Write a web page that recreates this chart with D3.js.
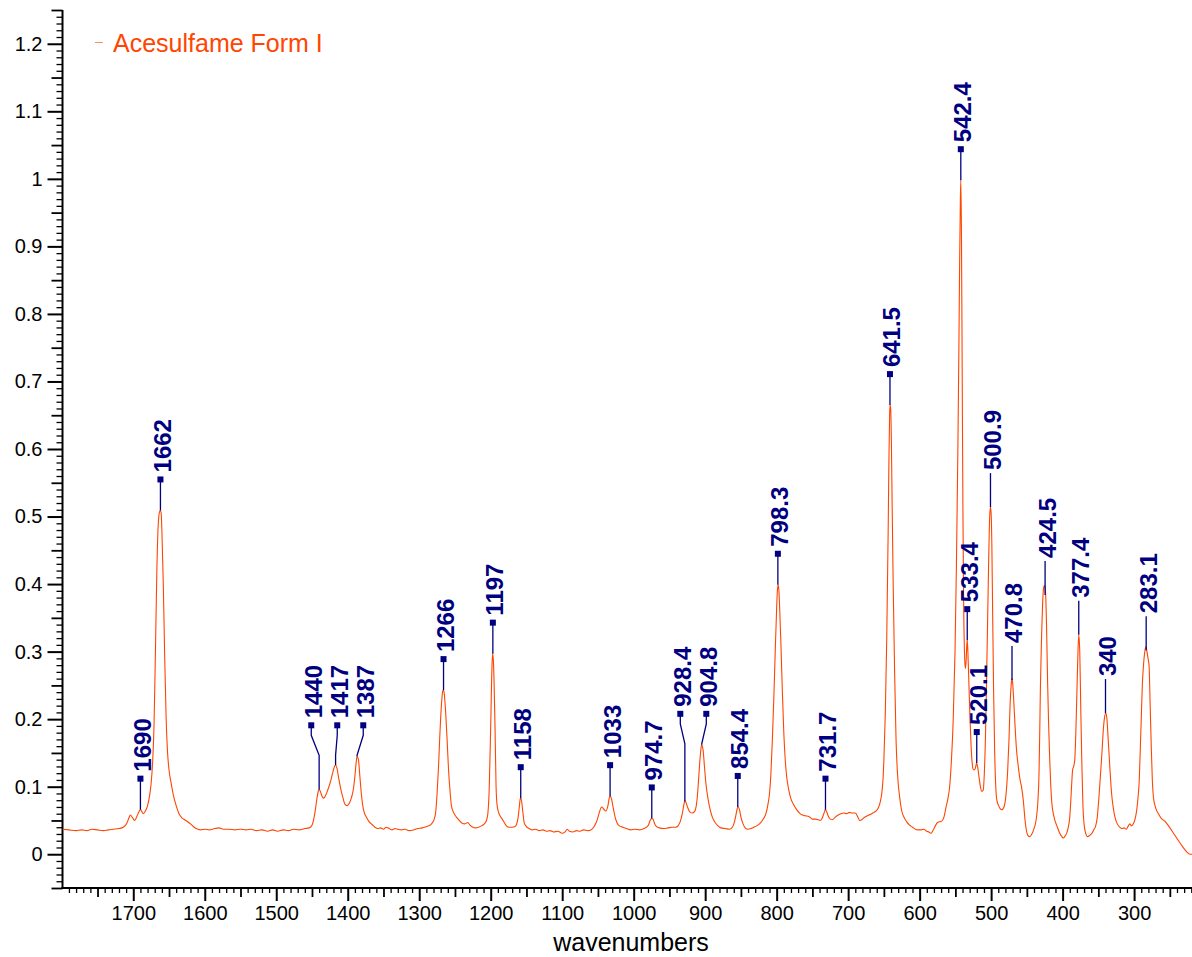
<!DOCTYPE html>
<html>
<head>
<meta charset="utf-8">
<script src="https://cdn.jsdelivr.net/npm/d3@7"></script>
<style>
  body { margin: 0; background: #fff; }
  svg { display: block; font-family: "Liberation Sans", Arial, sans-serif; }
</style>
</head>
<body>
<div id="chart"></div>
<script>
// spectrum (wavenumber, intensity)
var specWavenumber = [1799,1790,1780,1772,1765,1758,1750,1742,1735,1728,1720,1714,1709,1706,1704,1701,1698,1695,1692,1690,1688,1686,1683,1680,1677,1675,1673,1671,1669,1667,1665,1663,1662,1661,1660,1658,1656,1654,1652,1650,1647,1644,1640,1636,1632,1628,1624,1620,1616,1612,1606,1600,1594,1586,1580,1574,1566,1558,1550,1542,1535,1528,1520,1512,1505,1498,1490,1483,1476,1468,1460,1454,1450,1447,1445,1443,1441,1440,1438,1436,1434,1432,1429,1426,1423,1420,1418,1417,1415,1413,1410,1407,1404,1401,1398,1395,1392,1390,1388,1387,1385,1383,1381,1379,1377,1374,1370,1366,1362,1358,1354,1350,1346,1342,1338,1334,1330,1325,1320,1314,1308,1302,1296,1290,1285,1282,1279,1277,1275,1273,1271,1269,1267,1266,1265,1263,1261,1259,1257,1255,1252,1248,1244,1240,1236,1232,1229,1225,1221,1217,1213,1209,1206,1204,1202,1200,1198,1197,1196,1194,1192.5,1191,1189,1187,1184,1181,1178,1174,1170,1166,1164,1162,1160,1158.5,1157,1155,1153,1150,1146,1142,1137,1132,1127,1122,1117,1112,1106,1100,1096,1093,1090,1085,1080,1075,1070,1064,1060,1056,1052,1048,1045,1042,1039,1036,1034,1033,1031,1029,1026,1023,1020,1015,1010,1004,998,992,986,982,979,977,975,973,971,968,964,958,952,946,941,938,935,932,930,928.5,927,924,921,918,915,912,910,908,906,905,903,901,899,896,893,890,886,882,878,872,866,862,859,857,855,854,852,850,847,844,840,836,832,828,824,820,817,815,812,810,808,806,804,802,800,799,798,797,796,794,792,790,788,786,783,780,776,772,768,764,760,755,750,746,742,739,736,734,732,730,728,725,722,718,714,710,706,702,698,694,690,686,684,681,678,675,671,667,664,661,658,655,653,651,650,648,646,644,643,642,641.5,640.5,639.5,638.5,637,635,633,631,628,625,622,618,614,610,606,602,598,594,590,587,584,581,578,575,572,569,566,563,560,558,555.5,553,550.5,548.5,546.5,545,544,543,542.4,541.5,540.5,539.5,538.5,537,536,535,534,533.4,532.5,531,529.5,528,526.5,525,523,521.5,520.3,519,517,515,513,511,509.5,508,506.5,505,503.5,502,501,500,499,498,496.5,495,493.5,492,489.5,487,485,482,479.5,477,475,473.5,472,471,470,468.5,466.5,464.5,462,459.5,457.5,455,452.5,450,448,446,443,440,438,436,434.5,433,432,431,429.5,428,426.5,425,424,422.5,421,419.5,418,416.5,415,413,411,408,404,401,399,397,394,392,390,388.5,387,386,384.5,383,381.5,380,378.5,377.4,376,374.5,373,371.5,370,368,365,362,359,356,354,351.5,349.5,347.5,345,343,341,339.5,338,336.5,334,331.5,329,327,324,320,317,314,311,308,306,304,301,298,296,294,293,291.5,290,288.5,286.5,285,283.6,282,280.5,279,277.5,276,274.5,273,271,269,266,262,257,252.6,246,238.6,232,226,222,219];
var specIntensity = [0.037,0.036,0.035,0.036,0.035,0.037,0.036,0.035,0.036,0.037,0.038,0.040,0.046,0.054,0.058,0.054,0.050,0.056,0.063,0.066,0.063,0.060,0.064,0.072,0.088,0.105,0.135,0.19,0.30,0.42,0.49,0.508,0.509,0.505,0.48,0.40,0.29,0.20,0.15,0.125,0.105,0.088,0.072,0.060,0.054,0.051,0.048,0.045,0.041,0.038,0.036,0.037,0.036,0.038,0.039,0.037,0.037,0.036,0.037,0.036,0.037,0.035,0.036,0.034,0.036,0.034,0.036,0.035,0.037,0.036,0.038,0.039,0.043,0.055,0.068,0.083,0.094,0.096,0.092,0.086,0.083,0.085,0.092,0.101,0.112,0.125,0.131,0.132,0.127,0.115,0.098,0.085,0.074,0.072,0.075,0.083,0.097,0.115,0.138,0.145,0.140,0.115,0.09,0.072,0.062,0.055,0.048,0.044,0.040,0.038,0.039,0.037,0.040,0.038,0.036,0.038,0.037,0.036,0.037,0.035,0.036,0.038,0.039,0.041,0.043,0.046,0.052,0.062,0.09,0.13,0.18,0.22,0.242,0.243,0.238,0.21,0.17,0.125,0.095,0.072,0.062,0.055,0.050,0.046,0.045,0.047,0.043,0.040,0.039,0.040,0.042,0.045,0.050,0.060,0.100,0.19,0.285,0.297,0.28,0.19,0.10,0.072,0.062,0.057,0.052,0.047,0.042,0.040,0.040,0.041,0.044,0.052,0.070,0.083,0.080,0.062,0.046,0.041,0.038,0.036,0.037,0.035,0.036,0.034,0.035,0.033,0.034,0.031,0.033,0.037,0.034,0.033,0.035,0.034,0.036,0.035,0.036,0.040,0.048,0.062,0.070,0.067,0.064,0.072,0.084,0.086,0.082,0.071,0.055,0.046,0.042,0.040,0.038,0.036,0.037,0.036,0.038,0.040,0.044,0.050,0.053,0.052,0.046,0.041,0.039,0.038,0.039,0.040,0.040,0.042,0.048,0.060,0.072,0.079,0.077,0.068,0.062,0.061,0.063,0.075,0.098,0.130,0.155,0.162,0.155,0.130,0.105,0.082,0.066,0.055,0.047,0.042,0.039,0.038,0.037,0.040,0.048,0.058,0.068,0.070,0.066,0.055,0.045,0.039,0.037,0.038,0.040,0.042,0.045,0.050,0.055,0.060,0.075,0.090,0.12,0.17,0.23,0.30,0.365,0.39,0.399,0.392,0.37,0.31,0.24,0.18,0.14,0.115,0.095,0.082,0.073,0.066,0.061,0.058,0.057,0.056,0.052,0.052,0.051,0.050,0.054,0.060,0.066,0.063,0.057,0.052,0.051,0.055,0.058,0.060,0.061,0.060,0.062,0.061,0.061,0.054,0.050,0.051,0.054,0.056,0.058,0.060,0.062,0.064,0.068,0.078,0.090,0.115,0.14,0.21,0.32,0.48,0.58,0.65,0.665,0.66,0.61,0.52,0.40,0.27,0.17,0.12,0.085,0.064,0.055,0.048,0.043,0.040,0.037,0.036,0.036,0.037,0.034,0.033,0.031,0.036,0.042,0.047,0.048,0.049,0.055,0.070,0.085,0.10,0.14,0.20,0.30,0.43,0.60,0.76,0.88,0.97,0.998,0.92,0.72,0.52,0.38,0.29,0.275,0.285,0.31,0.317,0.30,0.25,0.20,0.16,0.135,0.125,0.125,0.130,0.135,0.130,0.115,0.100,0.093,0.095,0.12,0.17,0.25,0.34,0.43,0.50,0.514,0.505,0.46,0.37,0.24,0.15,0.10,0.08,0.072,0.067,0.066,0.070,0.085,0.12,0.17,0.22,0.25,0.260,0.255,0.23,0.19,0.155,0.13,0.11,0.10,0.08,0.05,0.032,0.027,0.026,0.030,0.038,0.045,0.060,0.080,0.12,0.18,0.25,0.32,0.37,0.395,0.398,0.39,0.34,0.255,0.19,0.14,0.10,0.075,0.060,0.051,0.042,0.031,0.026,0.024,0.026,0.032,0.040,0.055,0.080,0.110,0.125,0.13,0.14,0.18,0.24,0.30,0.325,0.30,0.21,0.13,0.07,0.045,0.032,0.026,0.028,0.031,0.037,0.041,0.055,0.08,0.11,0.15,0.185,0.205,0.209,0.20,0.175,0.13,0.09,0.068,0.056,0.046,0.040,0.038,0.039,0.037,0.042,0.045,0.042,0.045,0.055,0.068,0.09,0.105,0.15,0.20,0.25,0.285,0.30,0.307,0.30,0.29,0.278,0.22,0.16,0.11,0.085,0.073,0.066,0.060,0.053,0.049,0.043,0.033,0.021,0.011,0.003,0.000,0.000];

// picked peaks: label, height where the stem ends
var peakLabels = [1690, 1662, 1440, 1417, 1387, 1266, 1197, 1158, 1033, 974.7, 928.4, 904.8, 854.4, 798.3, 731.7, 641.5, 542.4, 533.4, 520.1, 500.9, 470.8, 424.5, 377.4, 340, 283.1];
var peakHeights = [0.066, 0.509, 0.096, 0.132, 0.145, 0.243, 0.297, 0.083, 0.086, 0.053, 0.078, 0.162, 0.070, 0.399, 0.066, 0.665, 0.998, 0.317, 0.135, 0.514, 0.258, 0.384, 0.325, 0.209, 0.302];
var peaksWithoutMarker = [500.9, 470.8, 424.5, 377.4, 340, 283.1];

var xMajorTicks = [1700, 1600, 1500, 1400, 1300, 1200, 1100, 1000, 900, 800, 700, 600, 500, 400, 300];
var yMajorTicks = [0, 0.1, 0.2, 0.3, 0.4, 0.5, 0.6, 0.7, 0.8, 0.9, 1, 1.1, 1.2];
var seriesName = "Acesulfame Form I";
var xTitle = "wavenumbers";

var W = 1192, H = 957;
var lineColor = "#ff4500", labelColor = "#000080";

var svg = d3.select("#chart").append("svg")
    .attr("width", W)
    .attr("height", H);

var x = d3.scaleLinear().domain([1799, 219]).range([62.5, 1192]);
var y = d3.scaleLinear().domain([-0.05, 1.25]).range([888, 10]);

// clip for the spectrum
svg.append("clipPath").attr("id", "plot")
  .append("rect").attr("x", 62.5).attr("y", 0).attr("width", W - 62.5).attr("height", 888);

// ---- axes ----
function tickRange(a, b, step) {
  var out = [];
  for (var v = a; v <= b + 1e-9; v += step) out.push(Math.round(v * 1000) / 1000);
  return out;
}
var xMinor = tickRange(220, 1790, 10).filter(function(v) { return v % 50 !== 0; });
var xMid = tickRange(250, 1750, 100);
var yMinor = tickRange(-0.05, 1.25, 0.01).filter(function(v) { return Math.round(v * 100) % 5 !== 0; });
var yMid = tickRange(-0.05, 1.25, 0.1);

function addAxis(axis, cls, transform, width) {
  var g = svg.append("g").attr("class", cls).attr("transform", transform).call(axis);
  g.select(".domain").remove();
  g.selectAll("line").attr("stroke", "#000").attr("stroke-width", width);
  g.selectAll("text").attr("fill", "#000").style("font-size", "20px")
    .style("font-family", "'Liberation Sans', Arial, sans-serif");
  return g;
}

addAxis(d3.axisBottom(x).tickValues(xMinor).tickSize(5).tickFormat(""), "x minor", "translate(0,888)", 1.3);
addAxis(d3.axisBottom(x).tickValues(xMid).tickSize(9).tickFormat(""), "x mid", "translate(0,888)", 1.8);
addAxis(d3.axisBottom(x).tickValues(xMajorTicks).tickSize(13).tickPadding(5).tickFormat(d3.format("d")), "x major", "translate(0,888)", 2);

addAxis(d3.axisLeft(y).tickValues(yMinor).tickSize(6).tickFormat(""), "y minor", "translate(62.5,0)", 1.3);
addAxis(d3.axisLeft(y).tickValues(yMid).tickSize(11).tickFormat(""), "y mid", "translate(62.5,0)", 1.8);
addAxis(d3.axisLeft(y).tickValues(yMajorTicks).tickSize(15).tickPadding(5).tickFormat(d3.format("~g")), "y major", "translate(62.5,0)", 2);

// axis lines
svg.append("line").attr("x1", 62.5).attr("x2", 62.5).attr("y1", 10).attr("y2", 888)
    .attr("stroke", "#000").attr("stroke-width", 2);
svg.append("line").attr("x1", 61.5).attr("x2", W).attr("y1", 888).attr("y2", 888)
    .attr("stroke", "#000").attr("stroke-width", 2);

svg.append("text")
    .attr("x", 631).attr("y", 951)
    .attr("text-anchor", "middle")
    .style("font-size", "25px")
    .attr("fill", "#000")
    .text(xTitle);

// ---- spectrum ----
var spectrum = specWavenumber.map(function(w, i) { return { w: w, v: specIntensity[i] }; });

var line = d3.line()
    .x(function(d) { return x(d.w); })
    .y(function(d) { return y(d.v); })
    .curve(d3.curveMonotoneX);

svg.append("path")
    .datum(spectrum)
    .attr("clip-path", "url(#plot)")
    .attr("fill", "none")
    .attr("stroke", lineColor)
    .attr("stroke-width", 1.1)
    .attr("d", line);

// ---- legend ----
svg.append("line").attr("x1", 95).attr("x2", 103).attr("y1", 42.5).attr("y2", 42.5)
    .attr("stroke", lineColor).attr("stroke-opacity", 0.6).attr("stroke-width", 1);
svg.append("text").attr("x", 113).attr("y", 51.7)
    .attr("fill", lineColor).style("font-size", "25px").text(seriesName);

// ---- peak labels ----
var fontSize = 24, spacing = 26;
var peaks = peakLabels.map(function(p, i) {
  var px = x(p), py = y(peakHeights[i]);
  var text = String(p);
  return {
    label: text, px: px, py: py, lx: px, sy: py - 31,
    len: text.replace(".", "").length * fontSize * 0.556 + (text.indexOf(".") >= 0 ? fontSize * 0.278 : 0),
    marked: peaksWithoutMarker.indexOf(p) < 0, bent: false
  };
}).sort(function(a, b) { return a.px - b.px; });

function overlaps(a, b) {
  if (Math.abs(a.px - b.px) >= spacing) return false;
  var a0 = a.sy - 7 - a.len, a1 = a.sy + 3, b0 = b.sy - 7 - b.len, b1 = b.sy + 3;
  return a0 < b1 && b0 < a1;
}

// group neighbouring labels that would collide and fan them out
var groups = [], cur = [peaks[0]];
for (var i = 1; i < peaks.length; i++) {
  if (overlaps(cur[cur.length - 1], peaks[i])) cur.push(peaks[i]);
  else { groups.push(cur); cur = [peaks[i]]; }
}
groups.push(cur);
groups.forEach(function(g) {
  if (g.length < 2) return;
  var mx = d3.mean(g, function(d) { return d.px; });
  var top = d3.min(g, function(d) { return d.py; }) - 31;
  g.forEach(function(d, k) {
    d.lx = mx + (k - (g.length - 1) / 2) * spacing;
    d.sy = top;
    d.bent = true;
  });
});

var ann = svg.append("g").attr("class", "peaks");

ann.selectAll("path.leader")
  .data(peaks)
  .join("path")
    .attr("class", "leader")
    .attr("fill", "none")
    .attr("stroke", labelColor)
    .attr("stroke-width", 1.3)
    .attr("d", function(d) {
      if (!d.marked) return "M" + d.lx + "," + (d.py - 34) + "V" + d.py;
      if (!d.bent) return "M" + d.lx + "," + d.sy + "V" + d.py;
      var kneeY = Math.min(d.sy + 30, d.py);
      return "M" + d.lx + "," + d.sy + "V" + (d.sy + 10) + "L" + d.px + "," + kneeY + "V" + d.py;
    });

ann.selectAll("rect.marker")
  .data(peaks.filter(function(d) { return d.marked; }))
  .join("rect")
    .attr("class", "marker")
    .attr("x", function(d) { return d.lx - 3; })
    .attr("y", function(d) { return d.sy - 3; })
    .attr("width", 6).attr("height", 6)
    .attr("fill", labelColor);

ann.selectAll("text.peak")
  .data(peaks)
  .join("text")
    .attr("class", "peak")
    .attr("transform", function(d) {
      var by = d.marked ? d.sy - 7 : d.py - 37;
      return "translate(" + (d.lx + 10.5) + "," + by + ") rotate(-90)";
    })
    .attr("fill", labelColor)
    .style("font-size", fontSize + "px")
    .style("font-weight", "bold")
    .text(function(d) { return d.label; });
</script>
</body>
</html>
